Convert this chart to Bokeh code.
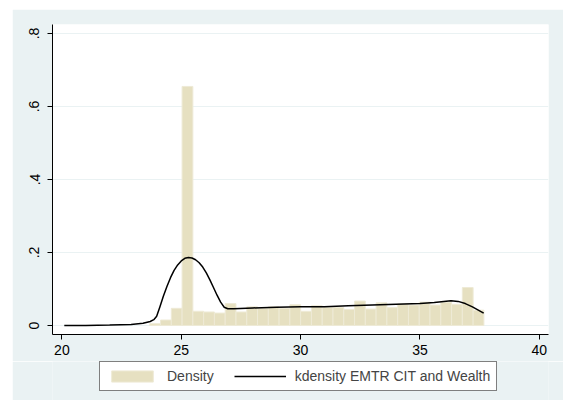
import numpy as np
from bokeh.plotting import figure
from bokeh.layouts import row, column
from bokeh.models import Range1d, FixedTicker, Legend, LegendItem, Spacer
from bokeh.embed import file_html
from bokeh.resources import INLINE

# histogram: first bin edge, bin width, bar heights (density)
bin_start = 23.68
bin_width = 0.4516
density = [0.005, 0.015, 0.047, 0.655, 0.039, 0.037, 0.034, 0.060, 0.037, 0.051,
           0.047, 0.051, 0.047, 0.057, 0.039, 0.054, 0.049, 0.049, 0.044, 0.067,
           0.045, 0.062, 0.049, 0.059, 0.056, 0.064, 0.056, 0.064, 0.058, 0.104,
           0.042]

# kernel density curve
kd_x = [20.1, 21.0, 22.0, 22.9, 23.4, 23.7, 23.85, 23.97, 24.1, 24.25, 24.4, 24.55,
        24.7, 24.85, 25.0, 25.15, 25.3, 25.45, 25.6, 25.75, 25.9, 26.05, 26.2,
        26.35, 26.5, 26.65, 26.8, 26.95, 27.2, 28.0, 29.0, 30.0, 31.0, 32.0, 33.0,
        34.0, 35.0, 35.6, 36.0, 36.3, 36.6, 36.9, 37.2, 37.67]
kd_y = [0.0, 0.0003, 0.001, 0.003, 0.006, 0.011, 0.016, 0.025, 0.050, 0.080, 0.107,
        0.131, 0.151, 0.166, 0.177, 0.184, 0.186, 0.185, 0.180, 0.172, 0.160, 0.144,
        0.125, 0.104, 0.083, 0.064, 0.050, 0.046, 0.046, 0.048, 0.050, 0.051, 0.051,
        0.054, 0.056, 0.058, 0.060, 0.063, 0.066, 0.068, 0.066, 0.060, 0.051, 0.034]

x_ticks = [20, 25, 30, 35, 40]
y_ticks = [0, 0.2, 0.4, 0.6, 0.8]
y_labels = ["0", ".2", ".4", ".6", ".8"]
legend_labels = ["Density", "kdensity EMTR CIT and Wealth"]

BG = "#EAF2F3"
FONT = "Liberation Sans"
BAR_STYLE = dict(fill_color="#E6E0C1", line_color="#EEEAD6", line_width=1)
LINE_STYLE = dict(line_color="black", line_width=1.5)

edges = bin_start + bin_width * np.arange(len(density) + 1)

p = figure(width=551, height=352, output_backend="svg", toolbar_location=None,
           x_range=Range1d(19.606, 40.386), y_range=Range1d(-0.0247, 0.8247),
           min_border_left=40, min_border_top=15, min_border_right=15,
           min_border_bottom=27)
p.background_fill_color = "white"
p.border_fill_color = BG
p.outline_line_color = None

p.quad(left=edges[:-1], right=edges[1:], top=density, bottom=0, **BAR_STYLE)
p.line(kd_x, kd_y, **LINE_STYLE)

p.xaxis.ticker = FixedTicker(ticks=x_ticks)
p.yaxis.ticker = FixedTicker(ticks=y_ticks)
p.yaxis.major_label_overrides = dict(zip(y_ticks, y_labels))
p.yaxis.major_label_orientation = "vertical"
for ax in (p.xaxis, p.yaxis):
    ax.minor_tick_line_color = None
    ax.major_tick_in = 0
    ax.major_tick_out = 5
    ax.axis_line_color = "black"
    ax.major_tick_line_color = "black"
    ax.major_label_text_font = FONT
    ax.major_label_text_font_size = "14px"
    ax.major_label_text_color = "black"
p.yaxis.major_label_standoff = 8

p.xgrid.grid_line_color = None
p.ygrid.ticker = FixedTicker(ticks=y_ticks)
p.ygrid.grid_line_color = BG
p.ygrid.grid_line_width = 1

# legend strip under the chart (a side-panel legend collapses the frame here)
lg = figure(width=551, height=39, output_backend="svg", toolbar_location=None,
            x_range=Range1d(0, 1), y_range=Range1d(0, 1),
            min_border=0, x_axis_type=None, y_axis_type=None)
lg.background_fill_color = BG
lg.border_fill_color = BG
lg.outline_line_color = None
lg.grid.visible = False
# key glyphs sit outside the visible range; only the legend draws them
key_bar = lg.quad(left=[-3], right=[-2], top=[-2], bottom=[-3], **BAR_STYLE)
key_line = lg.line(x=[-3, -2], y=[-3, -3], **LINE_STYLE)

legend = Legend(items=[LegendItem(label=legend_labels[0], renderers=[key_bar]),
                       LegendItem(label=legend_labels[1], renderers=[key_line])],
                orientation="horizontal", location=(47, 9))
legend.border_line_color = "black"
legend.border_line_width = 1
legend.background_fill_color = "white"
legend.background_fill_alpha = 1
legend.label_text_font = FONT
legend.label_text_font_size = "14px"
legend.glyph_width = 52
legend.glyph_height = 14
legend.label_standoff = 9
legend.spacing = 20
legend.padding = 6
legend.margin = 0
lg.add_layout(legend, "center")

layout = column(Spacer(width=563, height=9),
                row(Spacer(width=12, height=391), column(p, lg)))
open("out.html", "w").write(file_html(layout, INLINE))
